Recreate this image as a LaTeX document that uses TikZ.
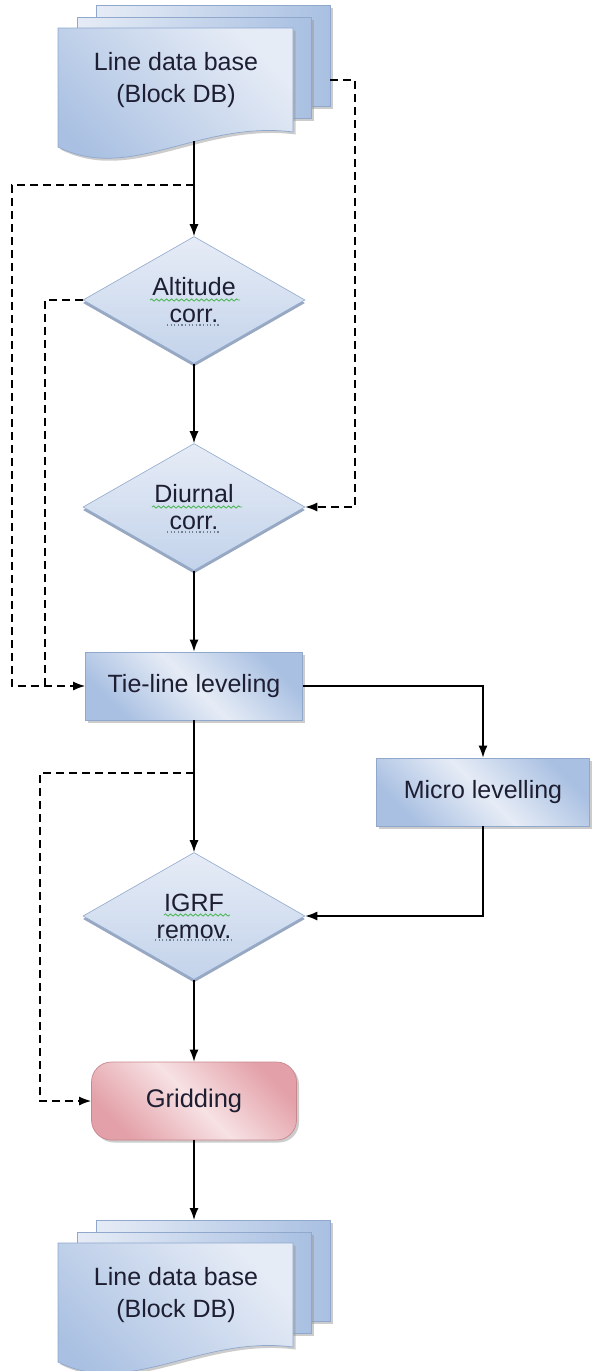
\documentclass[tikz,border=0pt]{standalone}
\usepackage{fontspec}
\setmainfont{Liberation Sans}
\usetikzlibrary{arrows.meta, positioning, calc, shapes.geometric, shadows,
                 decorations.pathmorphing}
\definecolor{dbblue}{HTML}{A9C0E2}
\definecolor{dblight}{HTML}{E6ECF6}
\definecolor{dbedge}{HTML}{8FA8CC}
\definecolor{dbshade}{HTML}{8E9FBA}
\definecolor{grpink}{HTML}{E3A0A8}
\definecolor{grlight}{HTML}{F7E2E4}
\definecolor{gredge}{HTML}{C8878F}
\definecolor{inkdark}{HTML}{1E1E32}
\definecolor{spellgreen}{HTML}{52B85A}

% stack of three sheets: name, top of the front sheet
\newcommand{\dbstack}[2]{%
  \begin{scope}[shift={(0,#2)}]
    \path[sheet] (96,-23) rectangle (330,78);
    \path[sheet] (77,-11) rectangle (311,90);
    \path[sheet, top color=dblight, bottom color=dbblue, shading angle=-45]
      (58,0) -- (293,0) -- (293,104)
      .. controls (200,92) and (130,155) .. (58,119) -- cycle;
    \node[dbtext] (#1) at (176,52) {Line data base\\(Block DB)};
    \coordinate (#1-b) at (194,113);
    \coordinate (#1-t) at (194,-23);
    \coordinate (#1-r) at (330,52);
  \end{scope}}

\begin{document}
\begin{tikzpicture}[x=1pt, y=-1pt,
    sheet/.style={draw=dbedge, line width=0.7pt, left color=dblight,
                  right color=dbblue,
                  drop shadow={shadow xshift=2.5pt, shadow yshift=-2.5pt,
                               fill=black!40, opacity=.5}},
    dbtext/.style={align=center, text=inkdark,
                   font=\fontsize{25}{32}\selectfont},
    proc/.style={draw=dbedge, line width=0.7pt, top color=dbblue,
                 bottom color=dbblue, middle color=dblight, shading angle=-45,
                 minimum height=68pt, inner sep=0pt, text=inkdark,
                 font=\fontsize{25}{30}\selectfont,
                 drop shadow={shadow xshift=2.5pt, shadow yshift=-2.5pt,
                              fill=black!40, opacity=.5}},
    decide/.style={diamond, draw=dbedge, line width=0.6pt, aspect=1.75,
                   minimum width=222pt, minimum height=127pt, inner sep=0pt,
                   top color=dblight, bottom color=dbblue!70, align=center,
                   text=inkdark, font=\fontsize{25}{27}\selectfont,
                   drop shadow={shadow xshift=0pt, shadow yshift=-3pt,
                                fill=dbshade, opacity=.9}},
    term/.style={draw=gredge, line width=0.7pt, rounded corners=20pt,
                 top color=grpink, bottom color=grpink, middle color=grlight,
                 shading angle=-45,
                 minimum width=205pt, minimum height=78pt, text=inkdark,
                 font=\fontsize{25.5}{30}\selectfont,
                 drop shadow={shadow xshift=2.5pt, shadow yshift=-2.5pt,
                              fill=black!40, opacity=.5}},
    arrowline/.style={line width=1.4pt, -{Latex[length=12pt, width=9pt]}},
    dashline/.style={arrowline, dash pattern=on 8pt off 5pt},
    spell/.style={spellgreen, line width=0.9pt,
                  decorate, decoration={snake, amplitude=1.1pt,
                                        segment length=5pt}},
    spelldots/.style={dbshade!80!black, line width=1.1pt,
                      dash pattern=on 1.2pt off 2.4pt},
  ]
  \useasboundingbox (0,0) rectangle (592,1371);

  \dbstack{dbin}{28}
  \node[decide] (alt)  at (194,300) {Altitude\\corr.};
  \node[decide] (diu)  at (194,507) {Diurnal\\corr.};
  \node[proc, minimum width=217pt] (tie)   at (194,686) {Tie-line leveling};
  \node[proc, minimum width=213pt] (micro) at (483,792) {Micro levelling};
  \node[decide] (igrf) at (194,916) {IGRF\\remov.};
  \node[term]   (grid) at (194,1101) {Gridding};
  \dbstack{dbout}{1243}

  % spell-check marks under the words
  \draw[spell] ($(alt.center)+(-44,0)$) -- ++(90,0);
  \draw[spelldots] ($(alt.center)+(-27,25)$) -- ++(52,0);
  \draw[spell] ($(diu.center)+(-42,0)$) -- ++(90,0);
  \draw[spelldots] ($(diu.center)+(-27,25)$) -- ++(52,0);
  \draw[spell] ($(igrf.center)+(-30,-1)$) -- ++(66,0);
  \draw[spelldots] ($(igrf.center)+(-39,24)$) -- ++(76,0);

  % main flow
  \draw[arrowline] (dbin-b) -- (alt.north);
  \draw[arrowline] (alt.south) -- (diu.north);
  \draw[arrowline] (diu.south) -- (tie.north);
  \draw[arrowline] (tie.east) -| (micro.north);
  \draw[arrowline] (micro.south) |- (igrf.east);
  \draw[arrowline] (tie.south) -- (igrf.north);
  \draw[arrowline] (igrf.south) -- (grid.north);
  \draw[arrowline] (grid.south) -- (dbout-t);

  % by-passes
  \coordinate (fork1) at (194,185);
  \coordinate (fork2) at (194,773);
  \draw[dashline] (fork1) -- (12,185) |- (tie.west);
  \draw[dashline, -] (alt.west) -| ($(tie.west)+(-40,0)$);
  \draw[dashline] (dbin-r) -- ++(25,0) |- (diu.east);
  \draw[dashline] (fork2) -- (40,773) |- (grid.west);
\end{tikzpicture}
\end{document}
